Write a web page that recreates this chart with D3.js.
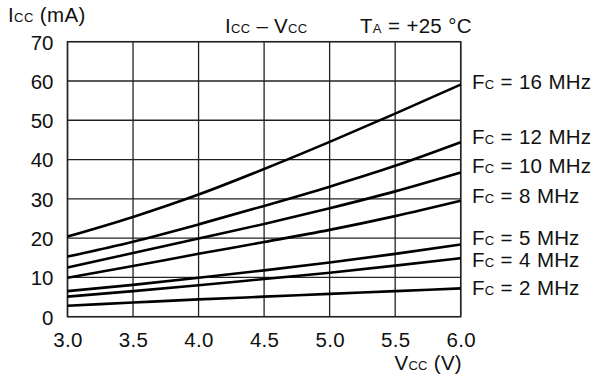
<!DOCTYPE html>
<html>
<head>
<meta charset="utf-8">
<script src="https://cdn.jsdelivr.net/npm/d3@7"></script>
<style>
  html, body { margin: 0; padding: 0; background: #fff; }
  svg { display: block; font-family: "Liberation Sans", Arial, sans-serif; }
</style>
</head>
<body>
<svg id="chart" width="592" height="381"></svg>
<script>
// ---- Data ----
const voltages = [3.0, 3.5, 4.0, 4.5, 5.0, 5.5, 6.0];
const xTicks = [3.0, 3.5, 4.0, 4.5, 5.0, 5.5, 6.0];
const yTicks = [0, 10, 20, 30, 40, 50, 60, 70];
const freqs = ["16", "12", "10", "8", "5", "4", "2"];
const icc16 = [20.4, 25.4, 31.1, 37.6, 44.5, 51.7, 59.1];
const icc12 = [15.3, 19.1, 23.5, 28.2, 33.1, 38.4, 44.4];
const icc10 = [12.5, 16.2, 19.9, 23.6, 27.6, 31.9, 36.7];
const icc8  = [9.9, 12.9, 16.0, 19.0, 22.1, 25.6, 29.5];
const icc5  = [6.5, 8.1, 9.9, 11.8, 13.8, 16.0, 18.4];
const icc4  = [5.1, 6.5, 8.0, 9.6, 11.2, 13.0, 14.9];
const icc2  = [2.8, 3.6, 4.4, 5.1, 5.8, 6.5, 7.2];
const seriesValues = [icc16, icc12, icc10, icc8, icc5, icc4, icc2];

// ---- Layout ----
const mLeft = 67.5, mRight = 460.7, mTop = 41.7, mBottom = 316.7;
const labelBaselines = [89.3, 144.3, 173.3, 203, 245, 266.7, 295];
const FS = 20.5, SUB = 13;

const svg = d3.select("#chart");
const x = d3.scaleLinear().domain([3.0, 6.0]).range([mLeft, mRight]);
const y = d3.scaleLinear().domain([0, 70]).range([mBottom, mTop]);

// grid
const g = svg.append("g");
g.selectAll("line.v").data(xTicks).join("line")
  .attr("x1", d => x(d)).attr("x2", d => x(d))
  .attr("y1", mTop).attr("y2", mBottom)
  .attr("stroke", "#222").attr("stroke-width", 1.3);
g.selectAll("line.h").data(yTicks).join("line")
  .attr("x1", mLeft).attr("x2", mRight)
  .attr("y1", d => y(d)).attr("y2", d => y(d))
  .attr("stroke", "#222").attr("stroke-width", 1.3);
g.append("rect").attr("x", mLeft).attr("y", mTop)
  .attr("width", mRight - mLeft).attr("height", mBottom - mTop)
  .attr("fill", "none").attr("stroke", "#222").attr("stroke-width", 1.5);

// axes (labels only)
const xAxis = d3.axisBottom(x).tickValues(xTicks).tickFormat(d3.format(".1f")).tickSize(0).tickPadding(0);
const xa = svg.append("g").attr("transform", `translate(0,${mBottom})`).call(xAxis);
xa.select(".domain").remove();
xa.selectAll("text").attr("font-size", FS).attr("font-family", "Liberation Sans, Arial, sans-serif")
  .attr("fill", "#111").attr("dy", null).attr("y", 30).attr("letter-spacing", 0.3);

const yAxis = d3.axisLeft(y).tickValues(yTicks).tickSize(0).tickPadding(0);
const ya = svg.append("g").attr("transform", `translate(${mLeft},0)`).call(yAxis);
ya.select(".domain").remove();
ya.selectAll("text").attr("font-size", FS).attr("font-family", "Liberation Sans, Arial, sans-serif")
  .attr("fill", "#111").attr("x", -14).attr("dy", "0.36em");

// curves
const line = d3.line().x((d, i) => x(voltages[i])).y(d => y(d)).curve(d3.curveMonotoneX);
svg.selectAll("path.curve").data(seriesValues).join("path")
  .attr("class", "curve").attr("d", line)
  .attr("fill", "none").attr("stroke", "#000").attr("stroke-width", 2.6);

// text helper with small-caps subscript
function label(xp, yp, parts, anchor, size, ls, ws) {
  const fs = size || FS;
  const t = svg.append("text").attr("x", xp).attr("y", yp)
    .attr("font-size", fs).attr("fill", "#111").attr("text-anchor", anchor || "start")
    .attr("letter-spacing", ls || 0).attr("word-spacing", ws || 0);
  parts.forEach(p => t.append("tspan").attr("font-size", p[1] ? SUB : fs).text(p[0]));
  return t;
}

// series labels
freqs.forEach((f, i) => {
  label(472, labelBaselines[i], [["F"], ["C", true], [" = " + f + " MHz"]], "start", FS, 0.15, 0.5);
});

// titles
label(8, 22, [["I"], ["CC", true], [" (mA)"]], "start", FS, 0.4);
label(225, 33, [["I"], ["CC", true], [" \u2013 V"], ["CC", true]], "start", FS, 0.3);
label(360, 33, [["T"], ["A", true], [" = +25 \u00B0C"]], "start", FS, 0.2, 0.5);
label(462, 370, [["V"], ["CC", true], [" (V)"]], "end", FS, 0.3);
</script>
</body>
</html>
